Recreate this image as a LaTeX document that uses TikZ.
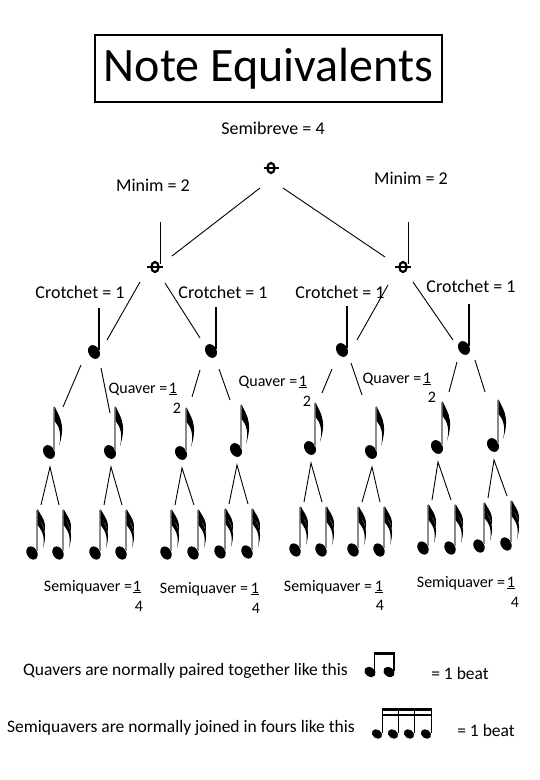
\documentclass[tikz,border=0pt]{standalone}
\usepackage{fontspec}
\setmainfont{Carlito}
\definecolor{stemgray}{gray}{0.55}
\tikzset{
  conn/.style={line width=0.9pt, black},
  lbl/.style={font=\fontsize{18}{20}\selectfont, inner sep=0pt},
  smalllbl/.style={font=\fontsize{16}{18}\selectfont, inner sep=0pt},
  notelbl/.style={font=\fontsize{17.5}{19}\selectfont, inner sep=0pt},
  semibrevepic/.pic={
    \draw[line width=2.2pt] (0,0) ellipse (3.6 and 5);
    \draw[line width=1.8pt] (-7.5,0) -- (7.5,0);
  },
  minimpic/.pic={
    \draw[line width=2.2pt] (0,0) ellipse (3.6 and 5);
    \draw[line width=1.8pt] (-8,0) -- (8,0);
    \draw[line width=1pt] (5,-3) -- (5,-45);
  },
  crotchetpic/.pic={
    \fill[rotate=-60] (0,0) ellipse (7.3 and 5.5);
    \draw[line width=1.5pt] (5.2,-2) -- (5.2,-44);
  },
  quaverpic/.pic={
    \fill[rotate=-60] (0,0) ellipse (7.3 and 5.5);
    \draw[stemgray, line width=1.3pt] (5,-2) -- (5,-45);
    \fill (5.6,-46) .. controls (8,-38) and (18,-30) .. (10,-6)
      .. controls (13,-18) and (10,-26) .. (5.6,-31) -- cycle;
  },
  semiquaverpic/.pic={
    \fill[rotate=-60] (0,0) ellipse (7 and 5.2);
    \draw[stemgray, line width=1.3pt] (5,-2) -- (5,-43);
    \fill (5.6,-44) .. controls (8,-38) and (15,-33) .. (12.5,-21)
      .. controls (12,-28) and (9,-31) .. (5.6,-35) -- cycle;
    \fill (5.6,-37) .. controls (8,-30) and (17,-24) .. (11,-5)
      .. controls (13.5,-17) and (9.5,-23) .. (5.6,-28) -- cycle;
  },
  pairpic/.pic={
    \fill[rotate around={-35:(0,0)}] (0,0) ellipse (6 and 4.6);
    \fill[rotate around={-35:(19,0)}] (19,0) ellipse (6 and 4.6);
    \draw[line width=1.6pt] (4.6,-1) -- (4.6,-19);
    \draw[line width=1.6pt] (24.2,-1) -- (24.2,-19);
    \fill (3.8,-20.5) rectangle (25,-17);
  },
  fourpic/.pic={
    \foreach \i in {0,16,32,49} {
      \fill[rotate around={-35:(\i,0)}] (\i,0) ellipse (5.5 and 4.3);
      \draw[line width=1.4pt] (\i+5.2,-1) -- (\i+5.2,-25);
    }
    \fill (4.5,-26.5) rectangle (54.9,-23.5);
    \fill (4.5,-20.5) rectangle (54.9,-18);
  },
}
\begin{document}
\begin{tikzpicture}[x=1pt,y=-1pt]
\useasboundingbox (0,0) rectangle (540,780);
\fill[white] (0,0) rectangle (540,780);

% title
\node[draw, line width=2pt, minimum width=347pt, minimum height=67pt, inner sep=0pt,
      font=\fontsize{48}{52}\selectfont] (title) at (268.5,68.5) {Note Equivalents};

% note positions
\coordinate (s) at (271,168);
\coordinate (m1) at (155,267);
\coordinate (m2) at (403,267);
\coordinate (c1) at (94,352);
\coordinate (c2) at (211,351);
\coordinate (c3) at (342,350);
\coordinate (c4) at (464,348);
\coordinate (q1) at (49,452);
\coordinate (q2) at (110,452);
\coordinate (q3) at (181,453);
\coordinate (q4) at (236,450);
\coordinate (q5) at (310,448);
\coordinate (q6) at (371,452);
\coordinate (q7) at (437,447);
\coordinate (q8) at (493,445);
\coordinate (sa1) at (32,553);  \coordinate (sb1) at (58,553);
\coordinate (sa2) at (95,553);  \coordinate (sb2) at (121,553);
\coordinate (sa3) at (166,553); \coordinate (sb3) at (193,553);
\coordinate (sa4) at (220,552); \coordinate (sb4) at (247,552);
\coordinate (sa5) at (295,550); \coordinate (sb5) at (321,550);
\coordinate (sa6) at (353,550); \coordinate (sb6) at (379,550);
\coordinate (sa7) at (423,548); \coordinate (sb7) at (450,548);
\coordinate (sa8) at (479,546); \coordinate (sb8) at (506,544);

% notes
\pic at (s) {semibrevepic};
\pic at (m1) {minimpic};
\pic at (m2) {minimpic};
\foreach \n in {c1,c2,c3,c4} {\pic at (\n) {crotchetpic};}
\foreach \n in {q1,q2,q3,q4,q5,q6,q7,q8} {\pic at (\n) {quaverpic};}
\foreach \i in {1,...,8} {
  \pic at (sa\i) {semiquaverpic};
  \pic at (sb\i) {semiquaverpic};
}

% connectors
\draw[conn] ([shift={(-11,20)}]s) -- ([shift={(17,-11)}]m1);
\draw[conn] ([shift={(12,20)}]s) -- ([shift={(-18,-10)}]m2);
\draw[conn] ([shift={(-15,15)}]m1) -- ([shift={(13,-12)}]c1);
\draw[conn] ([shift={(10,16)}]m1) -- ([shift={(-11,-13)}]c2);
\draw[conn] ([shift={(-15,18)}]m2) -- ([shift={(15,-10)}]c3);
\draw[conn] ([shift={(10,15)}]m2) -- ([shift={(-11,-8)}]c4);
\draw[conn] ([shift={(-13,13)}]c1) -- ([shift={(14,-45)}]q1);
\draw[conn] ([shift={(7,16)}]c1) -- ([shift={(0,-39)}]q2);
\draw[conn] ([shift={(-11,19)}]c2) -- ([shift={(11,-56)}]q3);
\draw[conn] ([shift={(8,18)}]c2) -- ([shift={(-6,-50)}]q4);
\draw[conn] ([shift={(-10,19)}]c3) -- ([shift={(12,-55)}]q5);
\draw[conn] ([shift={(9,13)}]c3) -- ([shift={(-9,-57)}]q6);
\draw[conn] ([shift={(-7,14)}]c4) -- ([shift={(12,-55)}]q7);
\draw[conn] ([shift={(11,12)}]c4) -- ([shift={(-8,-53)}]q8);
\foreach \i in {1,...,8} {
  \draw[conn] ([shift={(9,-48)}]sa\i) -- ([shift={(1,15)}]q\i) -- ([shift={(1,-48)}]sb\i);
}

% labels
\node[lbl] (lsb) at (273,128) {Semibreve = 4};
\node[lbl] (lm1) at (153,185) {Minim = 2};
\node[lbl] (lm2) at (411,178) {Minim = 2};
\node[lbl] (lc1) at (80,292) {Crotchet = 1};
\node[lbl] (lc2) at (223,292) {Crotchet = 1};
\node[lbl] (lc3) at (340,292) {Crotchet = 1};
\node[lbl] (lc4) at (471,286) {Crotchet = 1};

\node[smalllbl] (lq1) at (138,389) {Quaver =};
\node[smalllbl] (lq1n) at (173,389) {\underline{1}};
\node[smalllbl] (lq1d) at (177,408) {2};
\node[smalllbl] (lq2) at (268,382) {Quaver =};
\node[smalllbl] (lq2n) at (303,382) {\underline{1}};
\node[smalllbl] (lq2d) at (307,401) {2};
\node[smalllbl] (lq3) at (392,379) {Quaver =};
\node[smalllbl] (lq3n) at (427,379) {\underline{1}};
\node[smalllbl] (lq3d) at (432,397) {2};

\node[smalllbl] (ls1) at (88,587) {Semiquaver =};
\node[smalllbl] (ls1n) at (137,587) {\underline{1}};
\node[smalllbl] (ls1d) at (139,606) {4};
\node[smalllbl] (ls2) at (204,589) {Semiquaver =};
\node[smalllbl] (ls2n) at (255,589) {\underline{1}};
\node[smalllbl] (ls2d) at (256,608) {4};
\node[smalllbl] (ls3) at (328,587) {Semiquaver =};
\node[smalllbl] (ls3n) at (379,587) {\underline{1}};
\node[smalllbl] (ls3d) at (380,605) {4};
\node[smalllbl] (ls4) at (461,583) {Semiquaver =};
\node[smalllbl] (ls4n) at (511,583) {\underline{1}};
\node[smalllbl] (ls4d) at (515,602) {4};

% bottom notes
\node[notelbl, anchor=base west] (bq) at (23,675) {Quavers are normally paired together like this};
\coordinate (pair) at (370,672);
\pic at (pair) {pairpic};
\node[notelbl] (bq1) at (460,673) {= 1 beat};
\node[notelbl, anchor=base west] (bs) at (7,732) {Semiquavers are normally joined in fours like this};
\coordinate (four) at (377,734);
\pic at (four) {fourpic};
\node[notelbl] (bs1) at (486,730) {= 1 beat};
\end{tikzpicture}
\end{document}
